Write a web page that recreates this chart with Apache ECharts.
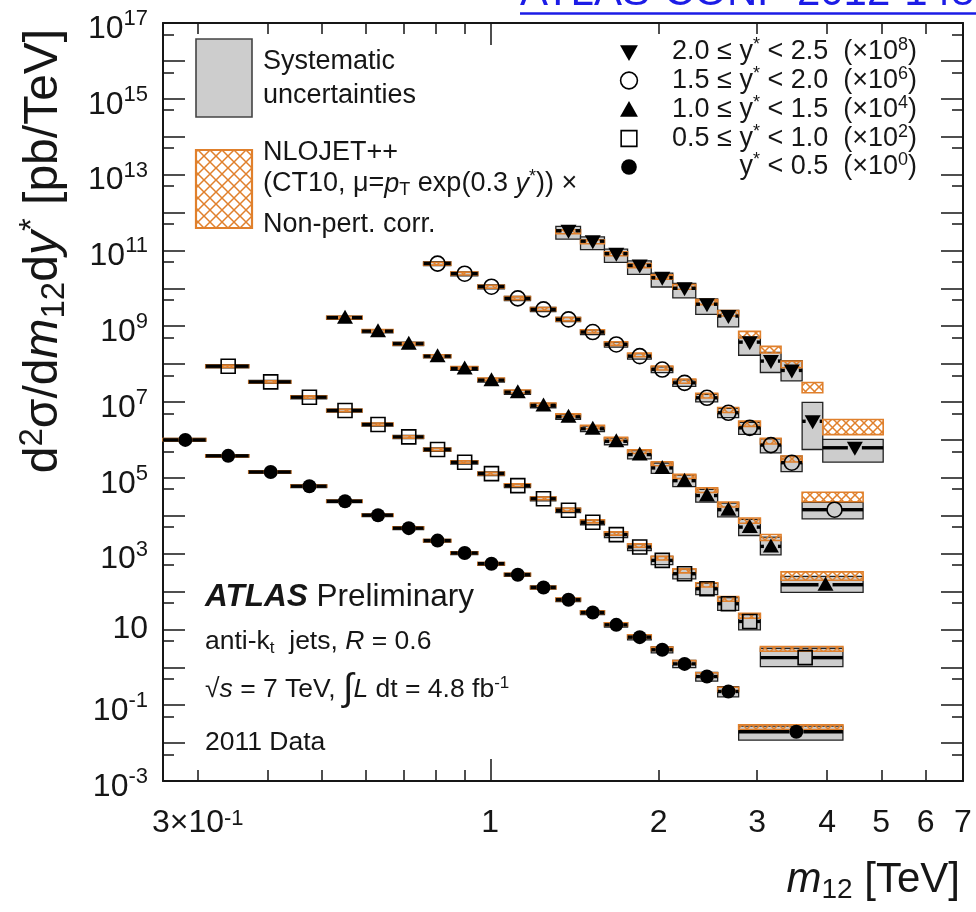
<!DOCTYPE html>
<html>
<head>
<meta charset="utf-8">
<script src="https://cdn.jsdelivr.net/npm/echarts@6/dist/echarts.min.js"></script>
<style>html,body{margin:0;padding:0;background:#fff}#chart{width:976px;height:912px}</style>
</head>
<body>
<div id="chart"></div>
<script>
// ---------------- DATA ----------------
// bin edges of m12 [TeV] for each rapidity bin (last bin merged where shown)
const edges0 = [0.26,0.31,0.37,0.44,0.51,0.59,0.67,0.76,0.85,0.95,1.06,1.18,1.31,1.45,1.60,1.76,1.94,2.12,2.33,2.55,2.78,4.27];
const edges1 = [0.31,0.37,0.44,0.51,0.59,0.67,0.76,0.85,0.95,1.06,1.18,1.31,1.45,1.60,1.76,1.94,2.12,2.33,2.55,2.78,3.04,4.27];
const edges2 = [0.51,0.59,0.67,0.76,0.85,0.95,1.06,1.18,1.31,1.45,1.60,1.76,1.94,2.12,2.33,2.55,2.78,3.04,3.31,4.64];
const edges3 = [0.76,0.85,0.95,1.06,1.18,1.31,1.45,1.60,1.76,1.94,2.12,2.33,2.55,2.78,3.04,3.31,3.61,4.64];
const edges4 = [1.31,1.45,1.60,1.76,1.94,2.12,2.33,2.55,2.78,3.04,3.31,3.61,3.93,5.04];

// measured d2sigma/dm12dy* [pb/TeV], already multiplied by the legend factor
const values0 = [1.0e6,3.8e5,1.42e5,6.0e4,2.4e4,1.03e4,4.7e3,2.2e3,1.04e3,541,277,128,60.5,28,13.2,6.25,2.9,1.23,0.57,0.23,0.02];
const values1 = [8.8e7,3.4e7,1.34e7,5.96e6,2.55e6,1.2e6,5.56e5,2.57e5,1.29e5,6.2e4,2.8e4,1.39e4,6.7e3,3.16e3,1.49e3,662,294,118,47.5,16.2,1.8];
const values2 = [1.68e9,7.4e8,3.44e8,1.62e8,7.7e7,3.77e7,1.82e7,8.1e6,4.06e6,1.96e6,9.2e5,4.1e5,1.82e5,8.4e4,3.4e4,1.44e4,5.0e3,1.55e3,151];
const values3 = [4.48e10,2.43e10,1.1e10,5.42e9,2.78e9,1.51e9,7.0e8,3.3e8,1.62e8,7.2e7,3.2e7,1.29e7,5.2e6,2.08e6,7.3e5,2.5e5,1.44e4];
const values4 = [3.3e11,1.75e11,8.2e10,4.0e10,1.9e10,1.0e10,3.8e9,1.85e9,3.8e8,1.2e8,6.8e7,3.1e6,6.2e5];

// systematic uncertainty, up / down [%]
const sysUp0 = [9,8,8,8,8,8,8,8,9,9,10,10,11,12,14,16,19,23,28,35,40];
const sysDn0 = [9,8,8,8,8,8,8,8,9,9,10,10,11,12,13,15,17,20,24,28,40];
const sysUp1 = [10,9,9,9,9,10,10,10,11,11,12,13,15,18,22,28,35,40,45,55,77];
const sysDn1 = [10,9,9,9,9,10,10,10,11,11,12,13,14,16,19,23,27,30,33,40,42];
const sysUp2 = [10,10,10,10,11,11,12,13,15,18,22,28,35,40,45,50,60,75,66];
const sysDn2 = [10,10,10,10,11,11,12,13,14,16,19,23,28,30,33,35,40,40,37];
const sysUp3 = [12,12,12,12,13,13,14,15,16,18,20,24,30,40,45,50,56];
const sysDn3 = [12,12,12,12,13,13,14,15,16,17,19,22,26,33,38,42,43];
const sysUp4 = [30,30,31,32,33,35,38,42,35,70,80,217,66];
const sysDn4 = [40,40,41,42,43,44,46,48,55,50,47,82,58];

// NLOJET++ x non-pert. corr.: ratio theory/data and band half width [%]
const thRatio0 = [1.02,1.0,1.0,1.01,1.0,1.0,1.02,1.0,1.01,1.0,1.02,1.0,1.03,1.02,1.04,1.05,1.07,1.1,1.12,1.15,1.33];
const thErr0   = [6,6,6,6,6,6,6,6,6,7,7,7,8,8,9,9,10,11,12,13,14];
const thRatio1 = [1.0,1.0,1.01,1.0,1.02,1.0,1.01,1.02,1.0,1.03,1.02,1.04,1.06,1.08,1.1,1.15,1.2,1.28,1.35,1.43,1.72];
const thErr1   = [7,7,7,7,7,7,7,7,8,8,8,9,9,10,10,11,12,13,14,15,14];
const thRatio2 = [1.0,1.02,1.0,1.01,1.03,1.05,1.04,1.07,1.1,1.12,1.15,1.2,1.3,1.3,1.4,1.38,1.5,1.75,1.75];
const thErr2   = [8,8,8,8,8,8,9,9,9,10,10,11,12,13,14,15,16,18,25];
const thRatio3 = [1.0,1.01,1.0,1.02,1.03,1.02,1.05,1.06,1.08,1.1,1.12,1.15,1.2,1.3,1.29,1.27,2.25];
const thErr3   = [9,9,9,9,9,10,10,11,11,12,13,14,15,16,17,18,28];
const thRatio4 = [0.95,0.97,1.0,1.0,1.05,1.1,1.15,1.2,1.6,2.04,1.47,8.1,3.9];
const thErr4   = [12,12,12,13,13,14,15,16,20,20,20,30,43];

// legend labels (top to bottom) and tick labels
const legendLabels = [
  '{t|2.0 ≤ y}{s|*}{t| < 2.5  (×10}{s|8}{t|)}',
  '{t|1.5 ≤ y}{s|*}{t| < 2.0  (×10}{s|6}{t|)}',
  '{t|1.0 ≤ y}{s|*}{t| < 1.5  (×10}{s|4}{t|)}',
  '{t|0.5 ≤ y}{s|*}{t| < 1.0  (×10}{s|2}{t|)}',
  '{t|y}{s|*}{t| < 0.5  (×10}{s|0}{t|)}'
];
const xMinorTicks = [0.3,0.4,0.5,0.6,0.7,0.8,0.9,2,3,4,5,6];
const xMajorTicks = [1];
const xLabelValues = [0.3,1,2,3,4,5,6,7];
const xLabelTexts = ['{c|3×10}{s|-1}','{c|1}','{c|2}','{c|3}','{c|4}','{c|5}','{c|6}','{c|7}'];
const yMajorTicks = [1e-3,1e-2,1e-1,1,1e1,1e2,1e3,1e4,1e5,1e6,1e7,1e8,1e9,1e10,1e11,1e12,1e13,1e14,1e15,1e16,1e17];
const yMinorTicks = [5e-3,5e-2,5e-1,5,5e1,5e2,5e3,5e4,5e5,5e6,5e7,5e8,5e9,5e10,5e11,5e12,5e13,5e14,5e15,5e16];
const yLabelValues = [1e-3,1e-1,1e1,1e3,1e5,1e7,1e9,1e11,1e13,1e15,1e17];
const yLabelTexts = ['{b|10}{s|-3}','{b|10}{s|-1}','{c|10}','{b|10}{s|3}','{b|10}{s|5}','{b|10}{s|7}','{b|10}{s|9}','{b|10}{s|11}','{b|10}{s|13}','{b|10}{s|15}','{b|10}{s|17}'];

// ---------------- RENDER ----------------
const FONT = '"Liberation Sans", Arial, Helvetica, sans-serif';
const INK = '#161616';
const ORANGE = '#e0802c';

function hatch(step, lw) {
  const c = document.createElement('canvas');
  c.width = step; c.height = step;
  const g = c.getContext('2d');
  g.strokeStyle = ORANGE; g.lineWidth = lw;
  g.beginPath();
  g.moveTo(-1, -1); g.lineTo(step + 1, step + 1);
  g.moveTo(step + 1, -1); g.lineTo(-1, step + 1);
  g.stroke();
  return c;
}
const hatchData = hatch(9, 1.5);
const hatchLegend = hatch(12, 1.5);

function marker(t, x, y, k) {
  k = k || 1;
  switch (t) {
    case 'circle': return {type: 'circle', shape: {cx: x, cy: y, r: 7 * k}, style: {fill: '#000'}};
    case 'square': return {type: 'rect', shape: {x: x - 7 * k, y: y - 7 * k, width: 14 * k, height: 14 * k}, style: {fill: 'none', stroke: '#000', lineWidth: 1.6}};
    case 'tri': return {type: 'polygon', shape: {points: [[x, y - 8 * k], [x + 8 * k, y + 6 * k], [x - 8 * k, y + 6 * k]]}, style: {fill: '#000'}};
    case 'ocircle': return {type: 'circle', shape: {cx: x, cy: y, r: 7.5 * k}, style: {fill: 'none', stroke: '#000', lineWidth: 1.6}};
    case 'tridown': return {type: 'polygon', shape: {points: [[x - 8 * k, y - 6 * k], [x + 8 * k, y - 6 * k], [x, y + 8 * k]]}, style: {fill: '#000'}};
  }
}

function rows(edges, vals, su, sd, tr, te) {
  return vals.map((v, i) => [edges[i], edges[i + 1], v, su[i], sd[i], tr[i], te[i]]);
}

function makeRender(mt) {
  return function (params, api) {
    const lo = api.value(0), hi = api.value(1), v = api.value(2);
    const su = api.value(3), sd = api.value(4), tr = api.value(5), te = api.value(6);
    const xc = (lo + hi) / 2;
    const pL = api.coord([lo, v]), pR = api.coord([hi, v]), pC = api.coord([xc, v]);
    const gTop = api.coord([lo, v * (1 + su / 100)])[1];
    const gBot = api.coord([lo, v * (1 - sd / 100)])[1];
    const tc = v * tr;
    const tTop = api.coord([lo, tc * (1 + te / 100)])[1];
    const tBot = api.coord([lo, tc * (1 - te / 100)])[1];
    const w = pR[0] - pL[0];
    const r = 7;
    return {
      type: 'group',
      children: [
        {type: 'rect', shape: {x: pL[0], y: gTop, width: w, height: gBot - gTop}, style: {fill: '#cdcdcd', stroke: '#222', lineWidth: 1.3}},
        {type: 'rect', shape: {x: pL[0], y: tTop, width: w, height: tBot - tTop}, style: {fill: {image: hatchData, repeat: 'repeat'}, stroke: ORANGE, lineWidth: 1.6}},
        {type: 'line', shape: {x1: pL[0], y1: pC[1], x2: pC[0] - r, y2: pC[1]}, style: {stroke: '#000', lineWidth: 3.4}},
        {type: 'line', shape: {x1: pC[0] + r, y1: pC[1], x2: pR[0], y2: pC[1]}, style: {stroke: '#000', lineWidth: 3.4}},
        marker(mt, pC[0], pC[1], 1)
      ]
    };
  };
}

const seriesDefs = [
  {name: 'y* < 0.5', mt: 'circle', data: rows(edges0, values0, sysUp0, sysDn0, thRatio0, thErr0)},
  {name: '0.5 ≤ y* < 1.0', mt: 'square', data: rows(edges1, values1, sysUp1, sysDn1, thRatio1, thErr1)},
  {name: '1.0 ≤ y* < 1.5', mt: 'tri', data: rows(edges2, values2, sysUp2, sysDn2, thRatio2, thErr2)},
  {name: '1.5 ≤ y* < 2.0', mt: 'ocircle', data: rows(edges3, values3, sysUp3, sysDn3, thRatio3, thErr3)},
  {name: '2.0 ≤ y* < 2.5', mt: 'tridown', data: rows(edges4, values4, sysUp4, sysDn4, thRatio4, thErr4)}
];

const XMIN = 0.26, XMAX = 7, YMIN = 1e-3, YMAX = 1e17;

const labelRich = {
  b: {fontSize: 32, fontFamily: FONT, color: INK, lineHeight: 44, padding: [12, 0, 0, 0]},
  c: {fontSize: 32, fontFamily: FONT, color: INK, lineHeight: 44},
  s: {fontSize: 22, fontFamily: FONT, color: INK, verticalAlign: 'top', padding: [7, 0, 0, 0]}
};

function pick(values, texts, v) {
  let k = 0, best = Infinity;
  values.forEach((x, i) => { const d = Math.abs(Math.log(x) - Math.log(v)); if (d < best) { best = d; k = i; } });
  return texts[k];
}

function xAxisDef(pos, ticks, len, withLine, withLabel) {
  return {
    type: 'log', logBase: 10, min: XMIN, max: XMAX, position: pos, gridIndex: 0,
    axisLine: {show: withLine, lineStyle: {color: INK, width: 2}},
    axisTick: {show: true, inside: true, length: len, customValues: ticks, lineStyle: {color: INK, width: 1.5}},
    minorTick: {show: false},
    splitLine: {show: false},
    axisLabel: withLabel ? {
      show: true, customValues: xLabelValues, margin: 20,
      formatter: v => pick(xLabelValues, xLabelTexts, v),
      rich: labelRich
    } : {show: false}
  };
}
function yAxisDef(pos, ticks, len, withLine, withLabel) {
  return {
    type: 'log', logBase: 10, min: YMIN, max: YMAX, position: pos, gridIndex: 0,
    axisLine: {show: withLine, lineStyle: {color: INK, width: 2}},
    axisTick: {show: true, inside: true, length: len, customValues: ticks, lineStyle: {color: INK, width: 1.5}},
    minorTick: {show: false},
    splitLine: {show: false},
    axisLabel: withLabel ? {
      show: true, customValues: yLabelValues, margin: 15,
      formatter: v => pick(yLabelValues, yLabelTexts, v),
      rich: labelRich
    } : {show: false}
  };
}

function richText(x, y, text, size, opts) {
  opts = opts || {};
  const base = {fontSize: size, fontFamily: FONT, fill: INK, lineHeight: Math.round(size * 1.15)};
  const small = Math.round(size * (opts.smallRatio || 0.66));
  const rich = {
    t: base,
    i: Object.assign({}, base, {fontStyle: 'italic'}),
    b: Object.assign({}, base, {fontStyle: 'italic', fontWeight: 'bold'}),
    s: {fontSize: small, fontFamily: FONT, fill: INK, lineHeight: Math.round(size * 0.55), verticalAlign: 'top'},
    q: {fontSize: small, fontFamily: FONT, fill: INK, lineHeight: Math.round(size * 0.5), verticalAlign: 'bottom'},
    g: {fontSize: Math.round(size * 1.45), fontFamily: FONT, fill: INK, lineHeight: Math.round(size * 1.15)}
  };
  const el = {
    type: 'text', x: x, y: y, silent: true,
    style: {text: text, rich: rich, align: opts.align || 'left', verticalAlign: 'middle', fill: INK}
  };
  if (opts.rotation) el.rotation = opts.rotation;
  return el;
}

const legendMarkers = ['tridown', 'ocircle', 'tri', 'square', 'circle'];
const legendY = [52, 80.5, 110, 138.5, 167];

const graphics = [];
// reference link at the top (cut by the page edge)
graphics.push({type: 'text', x: 520, y: -7, silent: true,
  style: {text: 'ATLAS-CONF-2012-148', fontSize: 42, fontFamily: FONT, fill: '#1c1ce6', verticalAlign: 'middle', align: 'left'}});
graphics.push({type: 'line', silent: true, shape: {x1: 520, y1: 13.5, x2: 976, y2: 13.5}, style: {stroke: '#1c1ce6', lineWidth: 2.5}});
// axis titles
graphics.push(richText(44, 251, '{t|d}{s|2}{t|σ/d}{i|m}{q|12}{t|d}{i|y}{s|*}{t| [pb/TeV]}', 48, {align: 'center', rotation: Math.PI / 2, smallRatio: 0.68}));
graphics.push(richText(960, 880, '{i|m}{q|12}{t| [TeV]}', 42, {align: 'right'}));
// left legend: boxes
graphics.push({type: 'rect', silent: true, shape: {x: 196, y: 39, width: 56, height: 78}, style: {fill: '#cdcdcd', stroke: '#444', lineWidth: 1.6}});
graphics.push({type: 'rect', silent: true, shape: {x: 196, y: 150, width: 56, height: 78}, style: {fill: {image: hatchLegend, repeat: 'repeat'}, stroke: ORANGE, lineWidth: 2.2}});
graphics.push(richText(263, 62, '{t|Systematic}', 27));
graphics.push(richText(263, 96, '{t|uncertainties}', 27));
graphics.push(richText(263, 153, '{t|NLOJET++}', 27));
graphics.push(richText(263, 184, '{t|(CT10, μ=}{i|p}{q|T}{t| exp(0.3 }{i|y}{s|*}{t|)) ×}', 27));
graphics.push(richText(263, 225, '{t|Non-pert. corr.}', 27));
// right legend
legendLabels.forEach((lab, i) => {
  graphics.push(Object.assign({silent: true}, marker(legendMarkers[i], 629, legendY[i], 1.12)));
  graphics.push(richText(917, legendY[i], lab, 27, {align: 'right'}));
});
// ATLAS annotations
graphics.push(richText(205, 597, '{b|ATLAS}{t| Preliminary}', 31.5));
graphics.push(richText(205, 642, '{t|anti-k}{q|t}{t|  jets, }{i|R}{t| = 0.6}', 26.5));
graphics.push(richText(205, 690, '{t|√}{i|s}{t| = 7 TeV, }{g|∫}{i|L}{t| dt = 4.8 fb}{s|-1}', 26.5));
graphics.push(richText(205, 743, '{t|2011 Data}', 26.5));

const option = {
  animation: false,
  backgroundColor: '#fff',
  grid: {left: 163, right: 13, top: 23, bottom: 131, containLabel: false},
  xAxis: [
    xAxisDef('bottom', xMinorTicks, 11, true, true),
    xAxisDef('bottom', xMajorTicks, 22, false, false),
    xAxisDef('top', xMinorTicks, 11, true, false),
    xAxisDef('top', xMajorTicks, 22, false, false)
  ],
  yAxis: [
    yAxisDef('left', yMajorTicks, 22, true, true),
    yAxisDef('left', yMinorTicks, 11, false, false),
    yAxisDef('right', yMajorTicks, 22, true, false),
    yAxisDef('right', yMinorTicks, 11, false, false)
  ],
  series: seriesDefs.map(s => ({
    type: 'custom', name: s.name, xAxisIndex: 0, yAxisIndex: 0,
    dimensions: ['lo', 'hi', 'v', 'su', 'sd', 'tr', 'te'],
    encode: {x: ['lo', 'hi'], y: 'v'},
    renderItem: makeRender(s.mt),
    data: s.data
  })),
  graphic: graphics
};

const chart = echarts.init(document.getElementById('chart'), null, {renderer: 'canvas'});
chart.setOption(option);
</script>
</body>
</html>
